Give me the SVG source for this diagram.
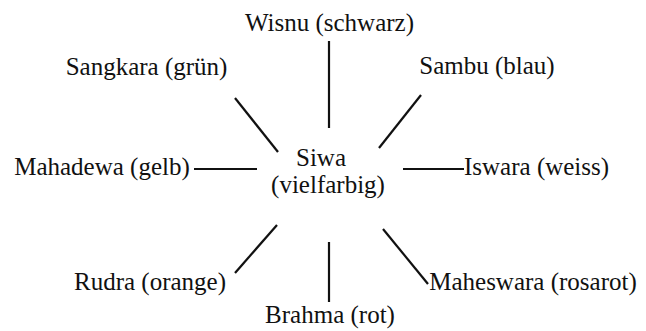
<svg xmlns="http://www.w3.org/2000/svg" width="646" height="331" viewBox="0 0 646 331">
<style>
text{font-family:"Liberation Serif","Times New Roman",serif;font-size:25px;fill:#111;text-anchor:middle}
.c line{stroke:#111;stroke-width:2.2}
</style>
<rect width="646" height="331" fill="#fff"/>
<g id="siwa"><text x="321" y="166">Siwa</text><text x="328" y="193">(vielfarbig)</text></g>
<g id="wisnu"><text x="329.5" y="31">Wisnu (schwarz)</text></g>
<g id="sangkara"><text x="146.5" y="75">Sangkara (grün)</text></g>
<g id="sambu"><text x="487" y="74">Sambu (blau)</text></g>
<g id="mahadewa"><text x="102" y="175">Mahadewa (gelb)</text></g>
<g id="iswara"><text x="464" y="175" style="text-anchor:start">Iswara (weiss)</text></g>
<g id="rudra"><text x="150" y="290">Rudra (orange)</text></g>
<g id="brahma"><text x="330" y="323">Brahma (rot)</text></g>
<g id="maheswara"><text x="533" y="290">Maheswara (rosarot)</text></g>
<g id="connectors" class="c">
<line x1="329" y1="41" x2="329" y2="128"/>
<line x1="235" y1="98" x2="278" y2="152"/>
<line x1="421" y1="95" x2="379" y2="148"/>
<line x1="194" y1="169" x2="257" y2="169"/>
<line x1="403" y1="169" x2="464" y2="169"/>
<line x1="277" y1="225" x2="235" y2="273"/>
<line x1="329" y1="242" x2="329" y2="302"/>
<line x1="383" y1="229" x2="428" y2="284"/>
</g>
</svg>
